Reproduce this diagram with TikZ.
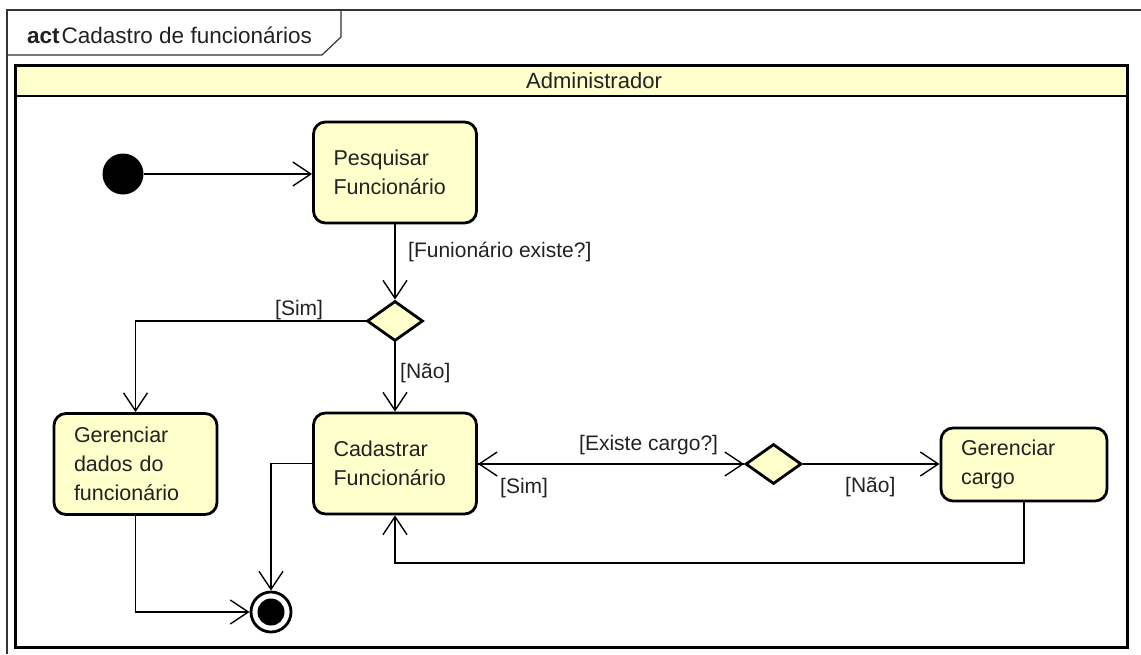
\documentclass[tikz,border=0pt]{standalone}
\usepackage{fontspec}
\setmainfont{Liberation Sans}
\usetikzlibrary{arrows.meta,shapes.geometric}
\definecolor{umlfill}{HTML}{FFFFCC}
\definecolor{umltext}{HTML}{222222}
\definecolor{framegray}{HTML}{333333}
\begin{document}
\begin{tikzpicture}[x=1pt,y=-1pt,
  txt/.style={font=\fontsize{21.5}{29}\selectfont, text=umltext, inner sep=0pt},
  action/.style={draw=black, line width=2.8pt, fill=umlfill, rounded corners=12pt,
    font=\fontsize{21.5}{29}\selectfont, text=umltext, align=left, inner sep=0pt,
    minimum height=101pt, text width=123pt, minimum width=163pt},
  decision/.style={draw=black, line width=2.8pt, fill=umlfill, diamond, inner sep=0pt,
    minimum width=56pt, minimum height=40pt},
  flow/.style={draw=black, line width=1.4pt, -{Straight Barb[length=18pt,width=24pt]}},
  guard/.style={txt, font=\fontsize{21}{28}\selectfont}]
\useasboundingbox (0,0) rectangle (1141,654);

% outer diagram frame and name tab
\draw[framegray, line width=1.2pt] (7,654) -- (7,10) -- (1141,10);
\draw[framegray, line width=1.2pt] (7,55) -- (322,55) -- (341,37) -- (341,10);
\node[txt, anchor=base west, font=\fontsize{22.5}{28}\selectfont] (titulo) at (27,43)
  {\textbf{act}\hspace{2pt}Cadastro de funcionários};

% swimlane
\fill[umlfill] (15,65) rectangle (1127,96);
\draw[black, line width=2pt] (15,96) -- (1127,96);
\draw[black, line width=3pt] (15,65) rectangle (1127,647);
\node[txt, font=\fontsize{22}{28}\selectfont] (raia) at (594,81) {Administrador};

% activities
\fill[black] (123,174) circle (20.5) node (inicio) {};
\coordinate (inicioE) at (143.5,174);
\node[action] (pesq) at (395,172.5) {Pesquisar\\Funcionário};
\node[decision] (d1) at (395,321) {};
\node[action, minimum width=163pt] (ger) at (135.5,464) {Gerenciar\\dados do\\funcionário};
\node[action] (cad) at (395,463.5) {Cadastrar\\Funcionário};
\node[decision] (d2) at (773.5,464) {};
\node[action, minimum width=166pt, minimum height=73pt, text width=126pt] (gc) at (1024,464.5)
  {Gerenciar\\cargo};
\node[circle, draw=black, line width=2.8pt, fill=white, minimum size=40pt, inner sep=0pt]
  (fim) at (271,612) {};
\fill[black] (fim.center) circle (13.5);
\coordinate (retorno) at (0,563);

% control flows
\draw[flow] (inicioE) -- (inicioE -| pesq.west);
\draw[flow] (pesq.south) -- (d1.north);
\draw[flow] (d1.west) -| (ger.north);
\draw[flow] (d1.south) -- (cad.north);
\draw[flow] (cad.east |- d2.west) -- (d2.west);
\draw[flow] (d2.west) -- (cad.east |- d2.west);
\draw[flow] (d2.east) -- (gc.west |- d2.east);
\draw[flow] (gc.south) -- (gc.south |- retorno) -| (cad.south);
\draw[flow] (cad.west) -| (fim.north);
\draw[flow] (ger.south) |- (fim.west);

% guards
\node[guard, anchor=west] (g1) at (408,252) {[Funionário existe?]};
\node[guard, anchor=west] (g2) at (275,310) {[Sim]};
\node[guard, anchor=west] (g3) at (400,373) {[Não]};
\node[guard, anchor=west] (g4) at (579,445) {[Existe cargo?]};
\node[guard, anchor=west] (g5) at (500,488) {[Sim]};
\node[guard, anchor=west] (g6) at (845,487) {[Não]};
\end{tikzpicture}
\end{document}
